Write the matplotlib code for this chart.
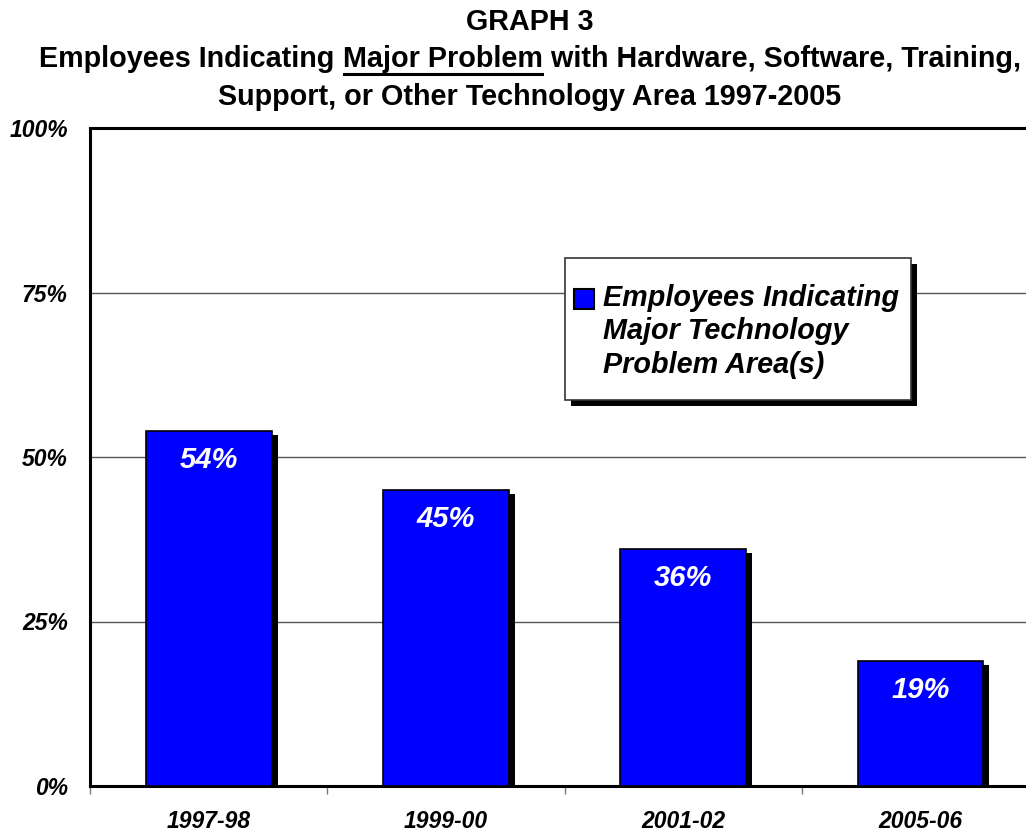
import matplotlib
matplotlib.use("Agg")
import matplotlib.pyplot as plt
from matplotlib.patches import Rectangle
from matplotlib.ticker import FixedLocator

# Data
periods = ["1997-98", "1999-00", "2001-02", "2005-06"]
share_major_problem = [54, 45, 36, 19]
y_ticks = [0, 25, 50, 75, 100]
y_tick_labels = ["0%", "25%", "50%", "75%", "100%"]
legend_label = "Employees Indicating\nMajor Technology\nProblem Area(s)"

FONT = ["Liberation Sans", "DejaVu Sans"]
BLUE = "#0000FF"
W, H, DPI = 1026, 831, 100

fig = plt.figure(figsize=(W / DPI, H / DPI), dpi=DPI)
fig.patch.set_facecolor("white")

# Axes in pixel terms: left edge 90, bottom 786, top 128, category width ~237
left, right, bottom, top = 90, 90 + 4 * 237.3, 786, 128
ax = fig.add_axes([left / W, (H - bottom) / H, (right - left) / W, (bottom - top) / H])
ax.set_xlim(0, len(periods))
ax.set_ylim(0, 100)

# Gridlines
for v in y_ticks[1:-1]:
    ax.axhline(v, color="#555555", lw=1.0, zorder=0)

x = [i + 0.5 for i in range(len(periods))]
bar_w = 0.53

# Black drop shadows behind the bars (offset in pixels)
px_x = len(periods) / (right - left)
px_y = 100 / (bottom - top)
for xi, v in zip(x, share_major_problem):
    ax.add_patch(Rectangle((xi - bar_w / 2 + 6 * px_x, 0), bar_w, v - 4 * px_y,
                           facecolor="black", edgecolor="none", zorder=2))

ax.bar(x, share_major_problem, width=bar_w, color=BLUE, edgecolor="black",
       linewidth=1.2, zorder=3)

for xi, v in zip(x, share_major_problem):
    ax.annotate(f"{v}%", xy=(xi, v), xytext=(0, -20.9), textcoords="offset points",
                ha="center", va="center", color="white", fontsize=21,
                fontweight="bold", fontstyle="italic", family=FONT, zorder=5)

# Spines
for s in ["left", "bottom", "top"]:
    ax.spines[s].set_color("black")
    ax.spines[s].set_linewidth(2.2)
ax.spines["right"].set_visible(False)

# Ticks
ax.set_yticks(y_ticks)
ax.set_yticklabels(y_tick_labels, fontsize=16.5, fontweight="bold",
                   fontstyle="italic", family=FONT)
ax.tick_params(axis="y", length=0, pad=16)

ax.set_xticks(x)
ax.set_xticklabels(periods, fontsize=16.5, fontweight="bold",
                   fontstyle="italic", family=FONT)
ax.xaxis.set_minor_locator(FixedLocator(range(len(periods) + 1)))
ax.tick_params(axis="x", which="major", length=0, pad=17)
ax.tick_params(axis="x", which="minor", length=6, width=1, color="#777777")

# Legend box drawn in figure pixels
def fx(px):
    return px / W

def fy(py):
    return (H - py) / H

lx0, lx1, ly0, ly1 = 565, 911, 258, 400
fig.add_artist(Rectangle((fx(lx0 + 6), fy(ly1 + 6)), fx(lx1 - lx0), (ly1 - ly0) / H,
                         transform=fig.transFigure, facecolor="black",
                         edgecolor="none", zorder=6))
fig.add_artist(Rectangle((fx(lx0), fy(ly1)), fx(lx1 - lx0), (ly1 - ly0) / H,
                         transform=fig.transFigure, facecolor="white",
                         edgecolor="#333333", lw=1.2, zorder=7))
fig.add_artist(Rectangle((fx(574), fy(309)), fx(20), 20 / H,
                         transform=fig.transFigure, facecolor=BLUE,
                         edgecolor="black", lw=1.5, zorder=8))
fig.text(fx(603), fy(284), legend_label, ha="left", va="top", fontsize=20.7,
         fontweight="bold", fontstyle="italic", family=FONT,
         linespacing=1.24, zorder=9)

# Title, with "Major Problem" underlined
title_kw = dict(fontsize=20.7, fontweight="bold", family=FONT, va="center")
cx = 530
fig.text(fx(cx), fy(22), "GRAPH 3", ha="center", **title_kw)
fig.text(fx(cx), fy(97), "Support, or Other Technology Area 1997-2005", ha="center", **title_kw)

parts = ["Employees Indicating ", "Major Problem", " with Hardware, Software, Training,"]
renderer = fig.canvas.get_renderer()
widths = []
for p in parts:
    t = fig.text(0, 0, p, **title_kw)
    widths.append(t.get_window_extent(renderer).width)
    t.remove()
total = sum(widths)
xpos = cx - total / 2
line_y = 59
for i, (p, w) in enumerate(zip(parts, widths)):
    fig.text(fx(xpos), fy(line_y), p, ha="left", **title_kw)
    if i == 1:
        fig.add_artist(plt.Line2D([fx(xpos + 1), fx(xpos + w - 1)],
                                  [fy(line_y + 15), fy(line_y + 15)],
                                  transform=fig.transFigure, color="black", lw=2.2))
    xpos += w

fig.savefig("out.png", dpi=DPI)
